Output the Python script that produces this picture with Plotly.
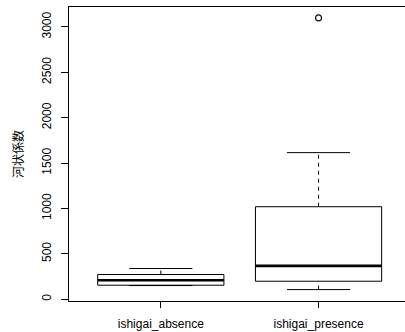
import plotly.graph_objects as go

# Box-plot statistics per group
categories = ["ishigai_absence", "ishigai_presence"]
lower_whisker = [150, 106]
q1 = [154, 198]
median = [209, 367]
q3 = [272, 1019]
upper_whisker = [338, 1615]
outlier_group = [2]
outlier_value = [3100]

y_ticks = [0, 500, 1000, 1500, 2000, 2500, 3000]
y_title = "河状係数"

BOX_HALF = 0.4
CAP_HALF = 0.2
BLACK = "#000000"

fig = go.Figure()

for i, name in enumerate(categories):
    x = i + 1
    # box outline
    fig.add_trace(go.Scatter(
        x=[x - BOX_HALF, x + BOX_HALF, x + BOX_HALF, x - BOX_HALF, x - BOX_HALF],
        y=[q1[i], q1[i], q3[i], q3[i], q1[i]],
        mode="lines", line=dict(color=BLACK, width=1), hoverinfo="skip"))
    # median
    fig.add_trace(go.Scatter(
        x=[x - BOX_HALF, x + BOX_HALF], y=[median[i], median[i]],
        mode="lines", line=dict(color=BLACK, width=2.6), hoverinfo="skip"))
    # dashed whiskers
    for a, b in ((q3[i], upper_whisker[i]), (lower_whisker[i], q1[i])):
        fig.add_trace(go.Scatter(
            x=[x, x], y=[a, b], mode="lines",
            line=dict(color=BLACK, width=1, dash="4px,4px"), hoverinfo="skip"))
    # whisker caps
    for v in (upper_whisker[i], lower_whisker[i]):
        fig.add_trace(go.Scatter(
            x=[x - CAP_HALF, x + CAP_HALF], y=[v, v], mode="lines",
            line=dict(color=BLACK, width=1), hoverinfo="skip"))

# outliers
fig.add_trace(go.Scatter(
    x=outlier_group, y=outlier_value, mode="markers",
    marker=dict(symbol="circle-open", size=6, color=BLACK, line=dict(width=1.2)),
    hoverinfo="skip"))

font_family = "Liberation Sans, Arial, Noto Sans CJK JP, sans-serif"

fig.update_layout(
    width=405, height=332,
    margin=dict(l=69, r=0, t=7, b=31),
    paper_bgcolor="white", plot_bgcolor="white",
    showlegend=False,
    font=dict(family=font_family, size=12, color=BLACK),
    xaxis=dict(
        range=[0.418, 2.548],
        tickmode="array", tickvals=[1, 2], ticktext=categories,
        ticks="outside", ticklen=6, tickwidth=1, tickcolor=BLACK,
        showline=True, linecolor=BLACK, linewidth=1, mirror=True,
        showgrid=False, zeroline=False, ticklabelstandoff=6,
        tickfont=dict(size=12, color=BLACK),
    ),
    yaxis=dict(
        range=[-20, 3220],
        tickmode="array", tickvals=y_ticks, ticktext=[str(t) for t in y_ticks],
        ticks="outside", ticklen=7, tickwidth=1, tickcolor=BLACK,
        tickangle=-90,
        showline=True, linecolor=BLACK, linewidth=1, mirror=False,
        showgrid=False, zeroline=False, ticklabelstandoff=5,
        tickfont=dict(size=12, color=BLACK),
        title=dict(text=y_title, standoff=14,
                   font=dict(size=12, family="Noto Sans CJK JP, sans-serif", color=BLACK)),
    ),
)

fig.write_html("out.html")
